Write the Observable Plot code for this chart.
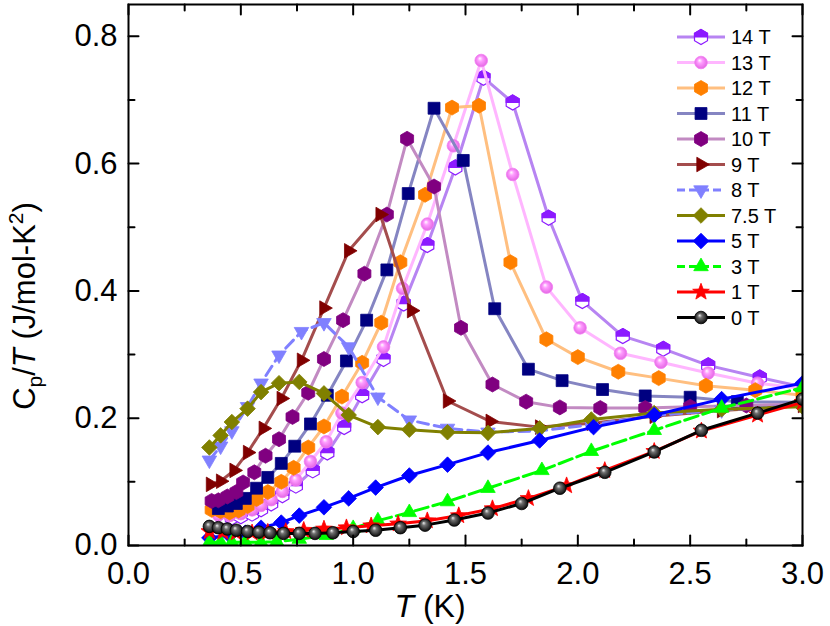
<!DOCTYPE html>
<html><head><meta charset="utf-8">
<script src="https://cdn.jsdelivr.net/npm/d3@7"></script>
<script src="https://cdn.jsdelivr.net/npm/@observablehq/plot@0.6"></script>
<style>
body{margin:0;background:#fff;font-family:'Liberation Sans',Arial,sans-serif}
#chart{position:relative;width:830px;height:626px}
</style>
</head><body><div id="chart"></div>
<script>
// ---- data (T in K, Cp/T in J/mol-K^2) ----
const t14 = [0.42,0.46,0.50,0.55,0.59,0.635,0.685,0.745,0.82,0.885,0.96,1.04,1.135,1.225,1.33,1.455,1.58,1.71,1.87,2.02,2.20,2.38,2.58,2.81,3.0];
const c14 = [0.044,0.044,0.046,0.050,0.057,0.066,0.079,0.094,0.118,0.146,0.186,0.236,0.293,0.380,0.472,0.594,0.735,0.696,0.515,0.384,0.329,0.309,0.283,0.264,0.249];
const t13 = [0.40,0.45,0.50,0.55,0.59,0.635,0.685,0.745,0.81,0.88,0.95,1.04,1.135,1.22,1.33,1.446,1.57,1.71,1.86,2.01,2.19,2.37,2.58,2.80,3.0];
const c13 = [0.048,0.047,0.050,0.056,0.063,0.072,0.085,0.103,0.132,0.163,0.208,0.256,0.312,0.404,0.505,0.628,0.762,0.583,0.406,0.342,0.302,0.288,0.271,0.255,0.247];
const t12 = [0.37,0.41,0.45,0.49,0.53,0.57,0.62,0.68,0.735,0.80,0.87,0.95,1.04,1.125,1.21,1.32,1.44,1.56,1.70,1.86,2.00,2.18,2.36,2.57,2.79,3.0];
const c12 = [0.056,0.054,0.052,0.055,0.062,0.073,0.084,0.100,0.122,0.154,0.187,0.234,0.287,0.350,0.445,0.551,0.688,0.691,0.445,0.324,0.296,0.273,0.263,0.251,0.244,0.236];
const t11 = [0.40,0.44,0.48,0.52,0.57,0.62,0.68,0.74,0.81,0.885,0.97,1.06,1.15,1.245,1.36,1.49,1.63,1.78,1.93,2.11,2.30,2.50,2.71,3.0];
const c11 = [0.058,0.062,0.066,0.074,0.090,0.107,0.129,0.156,0.191,0.236,0.290,0.354,0.433,0.553,0.687,0.605,0.372,0.277,0.259,0.245,0.235,0.233,0.226,0.225];
const t10 = [0.37,0.40,0.44,0.48,0.51,0.56,0.61,0.67,0.73,0.80,0.87,0.955,1.05,1.15,1.24,1.36,1.48,1.62,1.77,1.92,2.10,2.30,2.50,2.75,3.0];
const c10 = [0.070,0.071,0.077,0.084,0.099,0.115,0.141,0.167,0.202,0.240,0.293,0.354,0.427,0.520,0.639,0.564,0.342,0.253,0.226,0.217,0.216,0.216,0.218,0.220,0.222];
const t9  = [0.365,0.41,0.47,0.53,0.60,0.68,0.77,0.87,0.98,1.12,1.26,1.42,1.61,1.83,2.06,2.34,2.64,3.0];
const c9  = [0.096,0.101,0.118,0.146,0.184,0.231,0.291,0.373,0.463,0.520,0.369,0.227,0.195,0.186,0.192,0.203,0.212,0.220];
const t8  = [0.36,0.41,0.46,0.53,0.59,0.67,0.77,0.87,0.98,1.11,1.25,1.42,1.60,1.83,2.06,2.34,2.64,3.0];
const c8  = [0.134,0.156,0.180,0.218,0.255,0.299,0.336,0.350,0.312,0.233,0.197,0.184,0.178,0.180,0.190,0.204,0.213,0.220];
const t75 = [0.36,0.41,0.46,0.53,0.59,0.67,0.76,0.87,0.98,1.11,1.25,1.42,1.60,1.83,2.06,2.34,2.64,3.0];
const c75 = [0.154,0.173,0.194,0.215,0.241,0.255,0.257,0.239,0.205,0.186,0.182,0.178,0.177,0.184,0.198,0.208,0.214,0.218];
const t5  = [0.36,0.45,0.52,0.59,0.68,0.76,0.87,0.98,1.10,1.25,1.42,1.60,1.83,2.07,2.34,2.64,3.0];
const c5  = [0.012,0.016,0.020,0.028,0.036,0.047,0.060,0.074,0.091,0.110,0.127,0.146,0.165,0.186,0.205,0.230,0.255];
const t3  = [0.36,0.41,0.46,0.52,0.59,0.66,0.76,0.88,1.00,1.11,1.25,1.42,1.60,1.84,2.06,2.34,2.64,3.0];
const c3  = [0.005,0.005,0.005,0.005,0.005,0.006,0.010,0.016,0.027,0.039,0.052,0.069,0.090,0.118,0.148,0.181,0.216,0.248];
const t1  = [0.36,0.42,0.48,0.55,0.62,0.70,0.78,0.87,0.97,1.08,1.20,1.33,1.47,1.62,1.78,1.95,2.12,2.34,2.55,2.80,3.0];
const c1  = [0.022,0.021,0.020,0.020,0.021,0.022,0.024,0.026,0.028,0.031,0.034,0.039,0.047,0.058,0.074,0.094,0.118,0.148,0.180,0.205,0.225];
const t0  = [0.36,0.40,0.44,0.48,0.53,0.58,0.63,0.69,0.76,0.83,0.91,1.00,1.10,1.21,1.32,1.45,1.60,1.75,1.92,2.12,2.34,2.55,2.80,3.0];
const c0  = [0.030,0.028,0.026,0.024,0.022,0.021,0.020,0.019,0.019,0.019,0.020,0.022,0.024,0.028,0.032,0.040,0.051,0.066,0.090,0.115,0.147,0.181,0.208,0.230];

const xMajor = [0, 0.5, 1.0, 1.5, 2.0, 2.5, 3.0];
const xMinor = [0.25, 0.75, 1.25, 1.75, 2.25, 2.75];
const yMajor = [0, 0.2, 0.4, 0.6, 0.8];
const yMinor = [0.1, 0.3, 0.5, 0.7];

// ---- symbols ----
const R = size => Math.sqrt(size / Math.PI);
function poly(ctx, pts) { ctx.moveTo(pts[0][0], pts[0][1]); for (let i = 1; i < pts.length; i++) ctx.lineTo(pts[i][0], pts[i][1]); ctx.closePath(); }
const hexPts = r => d3.range(6).map(k => [r * Math.sin(k * Math.PI / 3), -r * Math.cos(k * Math.PI / 3)]);
const symHex = {draw(ctx, size) { poly(ctx, hexPts(R(size))); }};
const symHexTop = {draw(ctx, size) { const r = R(size), a = r * Math.sin(Math.PI / 3); poly(ctx, [[0, -r], [a, -r / 2], [a, 0], [-a, 0], [-a, -r / 2]]); }};
const symSquare = {draw(ctx, size) { const s = R(size) * 0.85; poly(ctx, [[-s, -s], [s, -s], [s, s], [-s, s]]); }};
const tri = ang => ({draw(ctx, size) { const r = R(size) * 1.2; poly(ctx, [0, 1, 2].map(k => { const a = ang + k * 2 * Math.PI / 3; return [r * Math.sin(a), -r * Math.cos(a)]; })); }});
const symTriUp = tri(0), symTriDown = tri(Math.PI), symTriRight = tri(Math.PI / 2);
const symDiamond = {draw(ctx, size) { const d = R(size) * 1.2; poly(ctx, [[0, -d], [d, 0], [0, d], [-d, 0]]); }};
const symStar = {draw(ctx, size) { const ro = R(size) * 1.25, ri = ro * 0.42; poly(ctx, d3.range(10).map(k => { const a = k * Math.PI / 5, r = k % 2 ? ri : ro; return [r * Math.sin(a), -r * Math.cos(a)]; })); }};
const symCircle = {draw(ctx, size) { const r = R(size); ctx.moveTo(r, 0); ctx.arc(0, 0, r, 0, 2 * Math.PI); }};

// ---- series (drawn 14 T first, 0 T last) ----
const series = [
  {name: "14 T", t: t14, c: c14, line: "#b784f2", mark: "#8c1aff", sym: symHex, r: 7.5, half: true},
  {name: "13 T", t: t13, c: c13, line: "#ffb6ff", mark: "url(#sph13)", stroke: "#f27df2", sym: symCircle, r: 6.3},
  {name: "12 T", t: t12, c: c12, line: "#ffbf80", mark: "#ff8000", sym: symHex, r: 7.5},
  {name: "11 T", t: t11, c: c11, line: "#8585c2", mark: "#000080", sym: symSquare, r: 7},
  {name: "10 T", t: t10, c: c10, line: "#c28ac2", mark: "#800080", sym: symHex, r: 7.5},
  {name: "9 T",  t: t9,  c: c9,  line: "#a44d4d", mark: "#800000", sym: symTriRight, r: 7},
  {name: "8 T",  t: t8,  c: c8,  line: "#8080ff", mark: "#8080ff", sym: symTriDown, r: 7, dash: "11,6"},
  {name: "7.5 T",t: t75, c: c75, line: "#808000", mark: "#808000", sym: symDiamond, r: 6.5},
  {name: "5 T",  t: t5,  c: c5,  line: "#0000ff", mark: "#0000ff", sym: symDiamond, r: 6.5},
  {name: "3 T",  t: t3,  c: c3,  line: "#00ff00", mark: "#00ff00", sym: symTriUp, r: 7, dash: "14,5"},
  {name: "1 T",  t: t1,  c: c1,  line: "#ff0000", mark: "#ff0000", sym: symStar, r: 7},
  {name: "0 T",  t: t0,  c: c0,  line: "#000000", mark: "url(#sph0)", stroke: "#000", sym: symCircle, r: 6.3}
];

const marks = [];
for (const s of series) {
  const data = s.t.map((t, i) => ({T: t, C: s.c[i]}));
  marks.push(Plot.line(data, {x: "T", y: "C", stroke: s.line, strokeWidth: 3, strokeDasharray: s.dash, clip: true}));
  if (s.half) {
    marks.push(Plot.dot(data, {x: "T", y: "C", symbol: s.sym, r: s.r, fill: "white", stroke: s.mark, strokeWidth: 1.2, clip: true}));
    marks.push(Plot.dot(data, {x: "T", y: "C", symbol: symHexTop, r: s.r, fill: s.mark, stroke: s.mark, strokeWidth: 1.2, clip: true}));
  } else {
    marks.push(Plot.dot(data, {x: "T", y: "C", symbol: s.sym, r: s.r, fill: s.mark, stroke: s.stroke || s.mark, strokeWidth: 0.8, clip: true}));
  }
}

const tickShape = {draw(ctx, l) { ctx.moveTo(0, 0); ctx.lineTo(0, -l); }};
const tk = (data, anchor, rot, len, isX) => Plot.vector(data, {
  [isX ? "x" : "y"]: d => d, frameAnchor: anchor, rotate: rot, length: len, anchor: "start",
  shape: tickShape, stroke: "black", strokeWidth: 2
});

const chart = Plot.plot({
  width: 830, height: 626,
  marginTop: 4, marginBottom: 81, marginLeft: 128, marginRight: 28,
  style: {fontFamily: "'Liberation Sans', Arial, sans-serif", background: "white", color: "black"},
  x: {domain: [0, 3]},
  y: {domain: [0, 0.85]},
  marks: [
    ...marks,
    Plot.frame({stroke: "black", strokeWidth: 2}),
    tk(xMajor, "bottom", 0, 10, true), tk(xMinor, "bottom", 0, 6, true),
    tk(xMajor, "top", 180, 10, true), tk(xMinor, "top", 180, 6, true),
    tk(yMajor, "left", 90, 10, false), tk(yMinor, "left", 90, 6, false),
    tk(yMajor, "right", -90, 10, false), tk(yMinor, "right", -90, 6, false),
    Plot.axisX(xMajor, {tickSize: 0, tickPadding: 16, tickFormat: d3.format(".1f"), fontSize: 31, label: null}),
    Plot.axisY(yMajor, {tickSize: 0, tickPadding: 11, tickFormat: d3.format(".1f"), fontSize: 31, label: null})
  ]
});

const svg = d3.select(chart);
svg.insert("defs", ":first-child").html(`
  <radialGradient id="sph0" cx="0.5" cy="0.5" r="0.55" fx="0.38" fy="0.32">
    <stop offset="0" stop-color="#f0f0f0"/><stop offset="0.3" stop-color="#707070"/><stop offset="1" stop-color="#000"/>
  </radialGradient>
  <radialGradient id="sph13" cx="0.5" cy="0.5" r="0.55" fx="0.38" fy="0.32">
    <stop offset="0" stop-color="#ffffff"/><stop offset="0.35" stop-color="#ff9cff"/><stop offset="1" stop-color="#e060e0"/>
  </radialGradient>`);

// axis titles
const xt = svg.append("text").attr("x", 430).attr("y", 617).attr("text-anchor", "middle")
  .attr("font-size", 32).attr("fill", "black");
xt.append("tspan").attr("font-style", "italic").text("T");
xt.append("tspan").text(" (K)");

const yt = svg.append("text").attr("transform", "translate(35,306) rotate(-90)").attr("text-anchor", "middle")
  .attr("font-size", 31).attr("fill", "black");
yt.append("tspan").text("C");
yt.append("tspan").attr("font-size", 21).attr("dy", 7).text("p");
yt.append("tspan").attr("dy", -7).text("/");
yt.append("tspan").attr("font-style", "italic").text("T");
yt.append("tspan").text(" (J/mol-K");
yt.append("tspan").attr("font-size", 21).attr("dy", -12).text("2");
yt.append("tspan").attr("dy", 12).text(")");

// legend
const lg = svg.append("g").attr("text-anchor", "start");
series.forEach((s, i) => {
  const y = 37 + i * 25.5;
  const g = lg.append("g").attr("transform", `translate(0,${y})`);
  g.append("line").attr("x1", 677).attr("x2", 725).attr("y1", 0).attr("y2", 0)
    .attr("stroke", s.line).attr("stroke-width", 3).attr("stroke-dasharray", s.dash ? "8,4" : null);
  const sz = s.r * s.r * Math.PI;
  if (s.half) {
    g.append("path").attr("transform", "translate(701,0)").attr("d", d3.symbol(s.sym, sz)())
      .attr("fill", "white").attr("stroke", s.mark).attr("stroke-width", 1.2);
    g.append("path").attr("transform", "translate(701,0)").attr("d", d3.symbol(symHexTop, sz)())
      .attr("fill", s.mark).attr("stroke", s.mark).attr("stroke-width", 1.2);
  } else {
    g.append("path").attr("transform", "translate(701,0)").attr("d", d3.symbol(s.sym, sz)())
      .attr("fill", s.mark).attr("stroke", s.stroke || s.mark).attr("stroke-width", 0.8);
  }
  g.append("text").attr("x", 731).attr("y", 0).attr("dy", "0.35em").attr("font-size", 20)
    .attr("text-anchor", "start").attr("fill", "black").text(s.name);
});

document.getElementById("chart").appendChild(chart);
</script>
</body></html>
